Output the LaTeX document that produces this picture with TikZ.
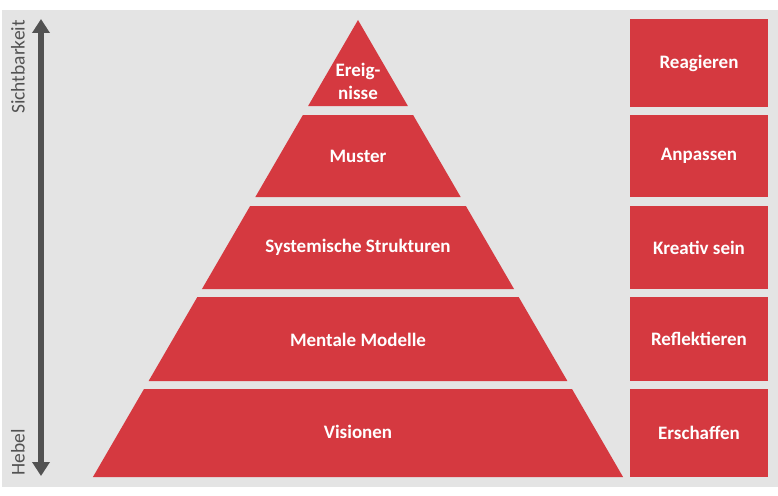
\documentclass[tikz,border=0pt]{standalone}
\usepackage{fontspec}
\setmainfont{Carlito}
\usetikzlibrary{arrows.meta}

\definecolor{tierred}{RGB}{213,57,64}
\definecolor{bggray}{RGB}{228,228,228}
\definecolor{axisgray}{RGB}{82,82,82}

\begin{document}
\begin{tikzpicture}[x=1pt, y=-1pt,
            tier/.style={fill=tierred},
            tiertext/.style={text=white, align=center, font=\bfseries\fontsize{19}{23}\selectfont},
            actbox/.style={fill=tierred, inner sep=0, minimum width=138pt, text=white, font=\bfseries\fontsize{19}{22}\selectfont},
            axislabel/.style={text=axisgray, rotate=90, inner sep=0, font=\fontsize{19.5}{22}\selectfont},
          ]
          \useasboundingbox (0,0) rectangle (778,495);
          \fill[bggray] (2,10) rectangle (778,487);

          % --- Pyramid: apex at (358,20), slope 0.58 ---
          \coordinate (apex) at (358,20);
          \foreach \t/\b in {20/106, 115/197, 206/289, 297/381, 389/477} {
            \pgfmathsetmacro{\wt}{0.58*(\t-20)}
            \pgfmathsetmacro{\wb}{0.58*(\b-20)}
            \fill[tier] (358-\wt,\t) -- (358+\wt,\t) -- (358+\wb,\b) -- (358-\wb,\b) -- cycle;
          }
          \node[tiertext] (ereig) at (358,81) {Ereig-\\nisse};
          \node[tiertext] (muster) at (358,156) {Muster};
          \node[tiertext] (struktur) at (358,247) {Systemische Strukturen};
          \node[tiertext] (modell) at (358,340) {Mentale Modelle};
          \node[tiertext] (vision) at (358,432) {Visionen};

          % --- Right column: what to do on each level ---
          \node[actbox, minimum height=88pt] (reagieren) at (699,63) {Reagieren};
          \node[actbox, minimum height=82pt] (anpassen) at (699,156) {Anpassen};
          \node[actbox, minimum height=83pt] (kreativ) at (699,247.5) {Kreativ sein};
          \node[actbox, minimum height=84pt] (reflekt) at (699,339) {Reflektieren};
          \node[actbox, minimum height=88pt] (erschaffen) at (699,433) {Erschaffen};

          % --- Left axis ---
          \coordinate (axtop) at (41,19);
          \coordinate (axbot) at (41,476);
          \draw[axisgray, line width=6pt, {Triangle[length=14pt,width=17pt]}-{Triangle[length=14pt,width=17pt]}] (axbot) -- (axtop);
          \node[axislabel, anchor=south east] (sicht) at (25,20) {Sichtbarkeit};
          \node[axislabel, anchor=south west] (hebel) at (25,476) {Hebel};
        \end{tikzpicture}
\end{document}
